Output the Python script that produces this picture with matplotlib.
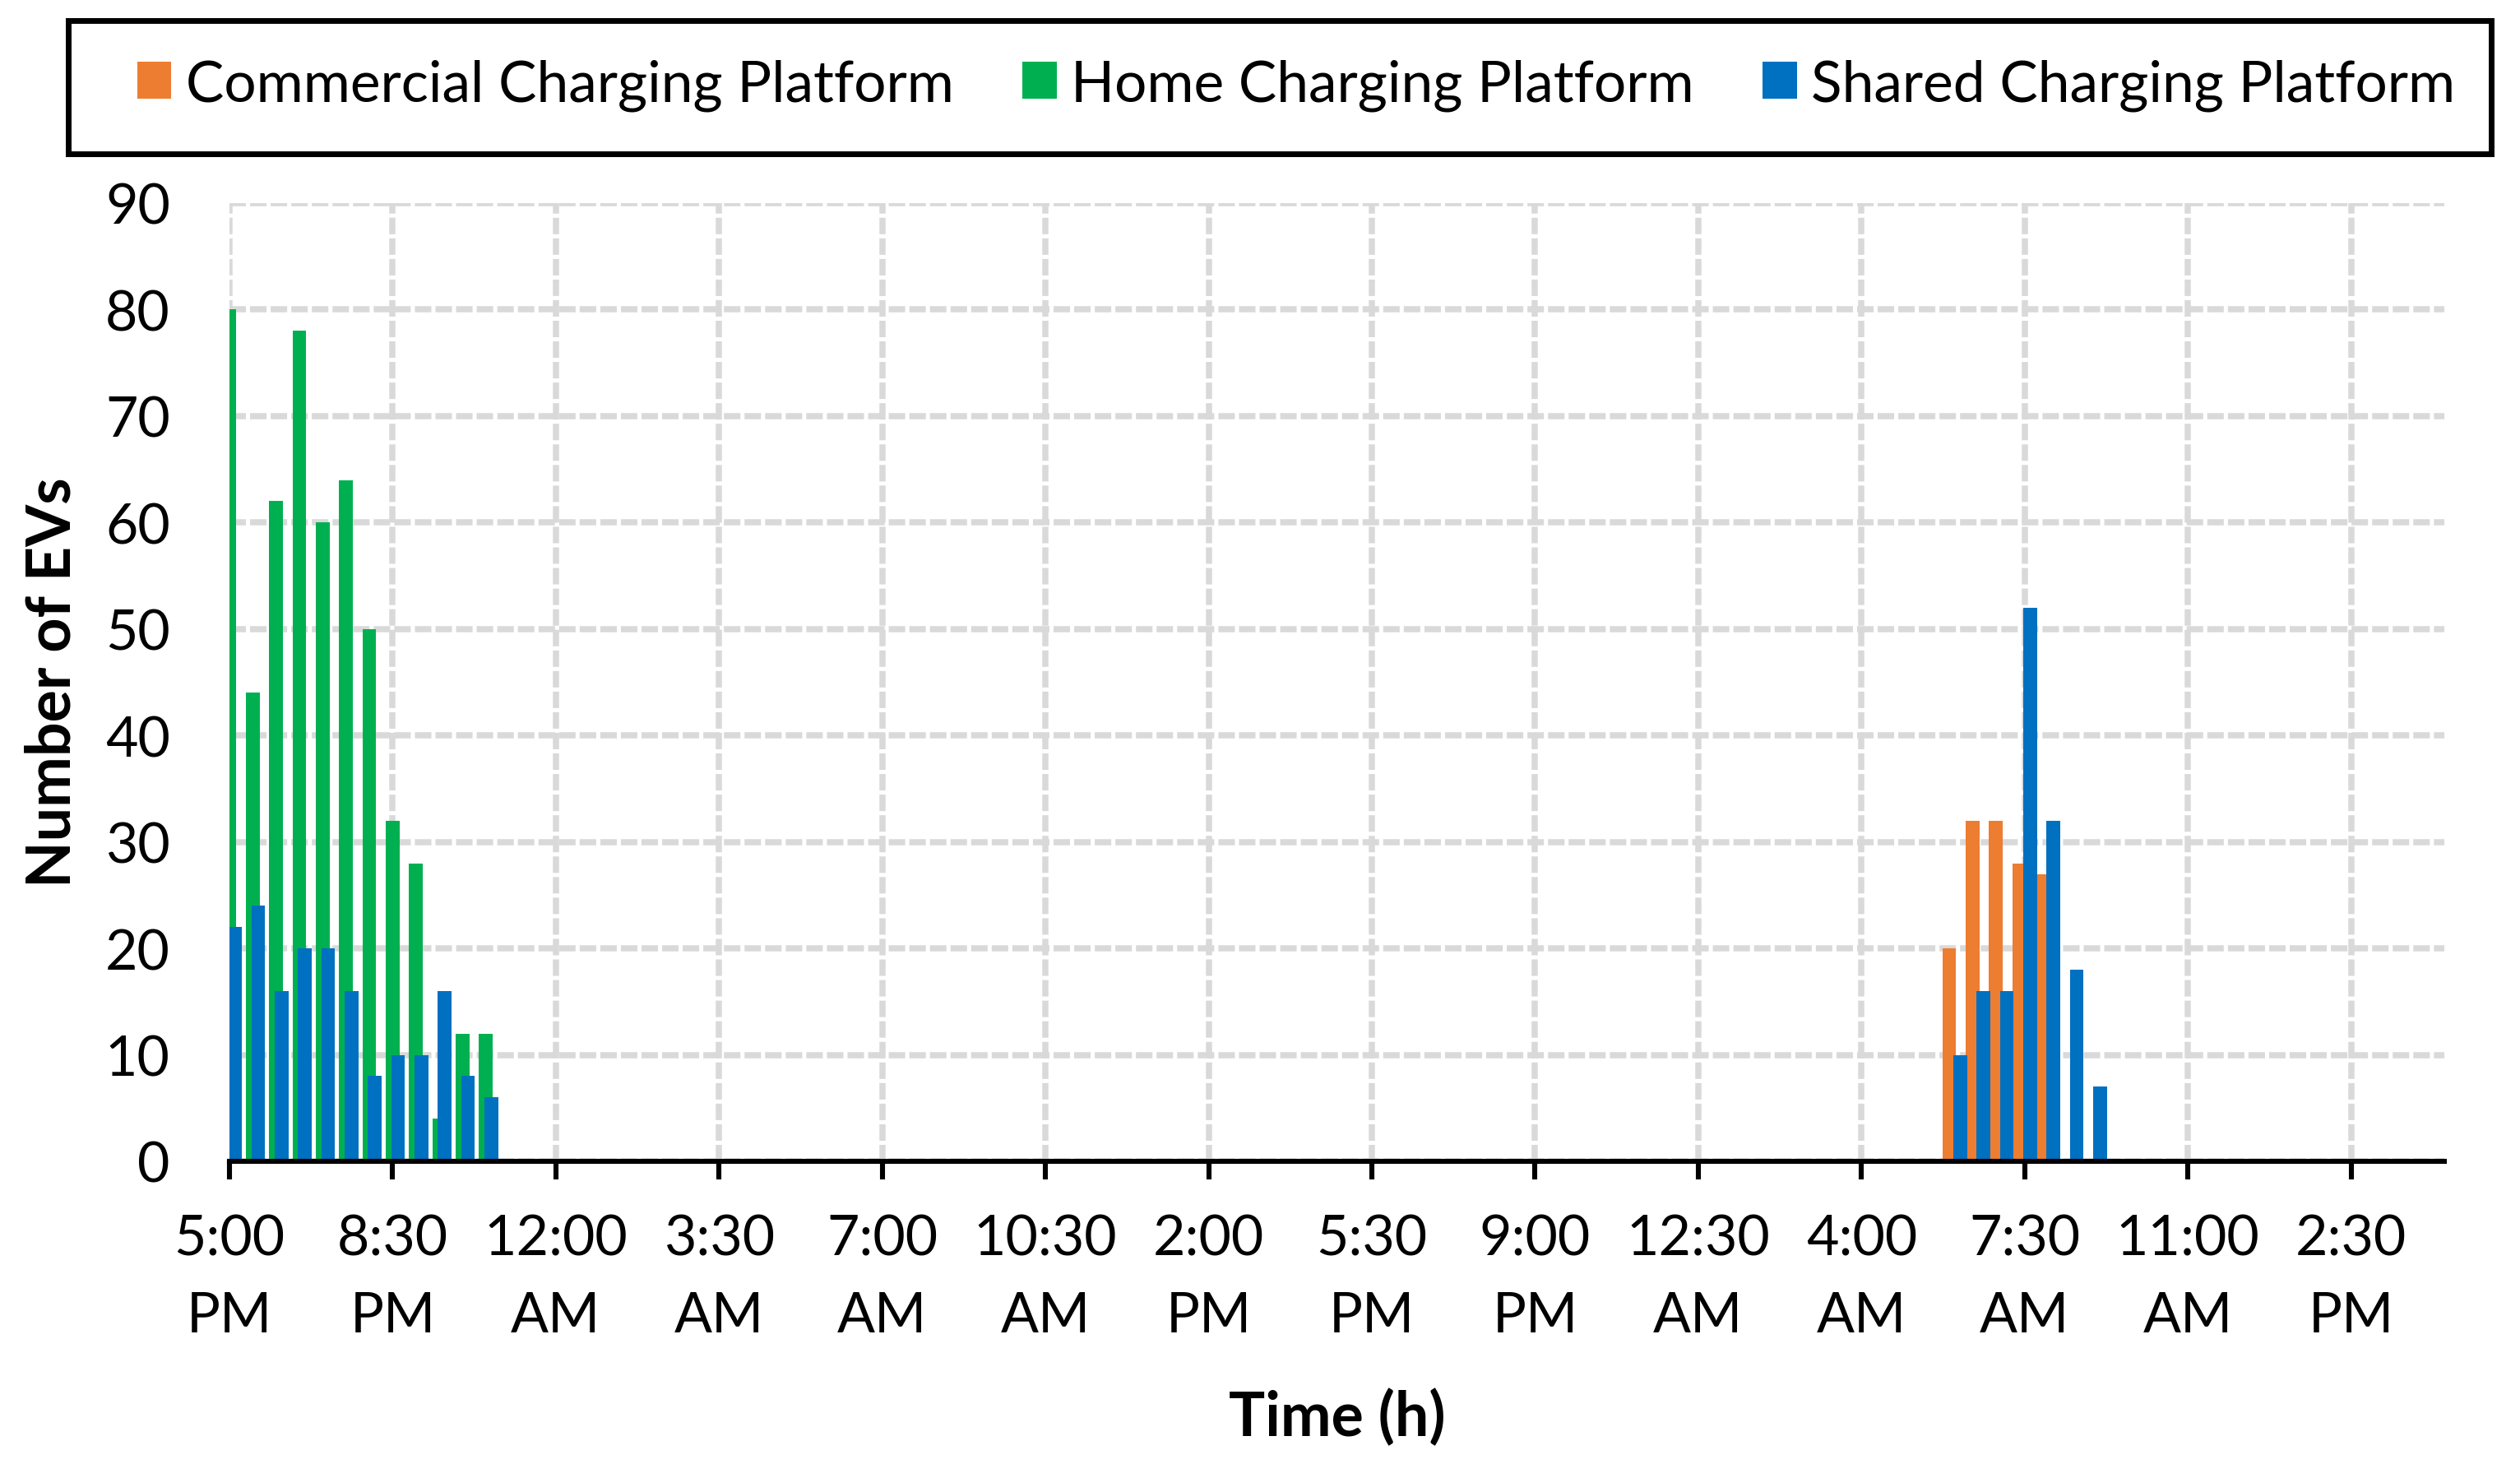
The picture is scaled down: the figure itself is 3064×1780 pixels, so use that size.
import numpy as np
import pandas as pd
import matplotlib
matplotlib.use("Agg")
import matplotlib.pyplot as plt
from matplotlib.patches import Rectangle

# half-hour slots from 5:00 PM over two days
slots = pd.date_range("2000-01-01 17:00", periods=96, freq="30min")

# evening arrivals (start at 5:00 PM, day 1)
evening_start = "2000-01-01 17:00"
home_evening = [80, 44, 62, 78, 60, 64, 50, 32, 28, 4, 12, 12]
shared_evening = [22, 24, 16, 20, 20, 16, 8, 10, 10, 16, 8, 6]

# morning arrivals (start at 6:00 AM, day 3)
morning_start = "2000-01-03 06:00"
commercial_morning = [20, 32, 32, 28, 27]
shared_morning = [10, 16, 16, 52, 32, 18, 7]

series_names = ["Commercial Charging Platform", "Home Charging Platform", "Shared Charging Platform"]
colors = ["#ED7D31", "#00B050", "#0070C0"]


def fill(*parts):
    out = np.zeros(len(slots))
    for start, vals in parts:
        i = slots.get_loc(pd.Timestamp(start))
        out[i:i + len(vals)] += vals
    return out


commercial = fill((morning_start, commercial_morning))
home = fill((evening_start, home_evening))
shared = fill((evening_start, shared_evening), (morning_start, shared_morning))

plt.rcParams["font.family"] = ["Lato", "DejaVu Sans"]
FS = 24.5

fig = plt.figure(figsize=(15.32, 8.905), dpi=200)
W, H = 3064, 1781
ax = fig.add_axes([279 / W, 1 - 1413 / H, (2972 - 279) / W, (1413 - 248) / H])

x = np.arange(len(slots))
bw = 0.59
off = 0.235
bars = []
for vals, dx, c in zip([commercial, home, shared], [-off, 0, off], colors):
    bars.append(ax.bar(x + dx, vals, bw, color=c, linewidth=0, zorder=2))

ax.set_xlim(0, 95)
ax.set_ylim(0, 90)
ax.set_yticks(np.arange(0, 91, 10))
tick_idx = np.arange(0, 92, 7)
ax.set_xticks(tick_idx)
ax.set_xticklabels([slots[i].strftime("%I:%M\n%p").lstrip("0") for i in tick_idx])

ax.grid(True, color="#D9D9D9", lw=2.7, linestyle=(0, (2.67, 0.67)), zorder=0)
ax.set_axisbelow(True)
for s in ["top", "right", "left"]:
    ax.spines[s].set_visible(False)
ax.spines["bottom"].set_linewidth(2.2)
ax.spines["bottom"].set_zorder(3)
ax.tick_params(axis="x", length=8, width=2.2, pad=15, labelsize=FS)
ax.tick_params(axis="y", length=0, pad=26, labelsize=FS)
for t in ax.get_xticklabels():
    t.set_linespacing(1.62)

fig.text(64 / W, 1 - 830 / H, "Number of EVs", rotation=90, ha="center", va="center",
         fontsize=26.5, fontweight="bold")
fig.text(1626 / W, 1 - 1724 / H, "Time (h)", ha="center", va="center",
         fontsize=26.5, fontweight="bold")

# legend box across the top
fig.patches.append(Rectangle((83 / W, 1 - 187.5 / H), (3029 - 83) / W, (187.5 - 25.5) / H,
                             transform=fig.transFigure, fill=False, lw=2.5, ec="black"))
fig.legend([b[0] for b in bars], series_names, loc="center", bbox_to_anchor=(1576 / W, 1 - 104 / H),
           ncol=3, frameon=False, fontsize=25, handlelength=0.6, handleheight=0.62,
           handletextpad=0.25, columnspacing=1.2)

fig.savefig("out.png", dpi=200)
